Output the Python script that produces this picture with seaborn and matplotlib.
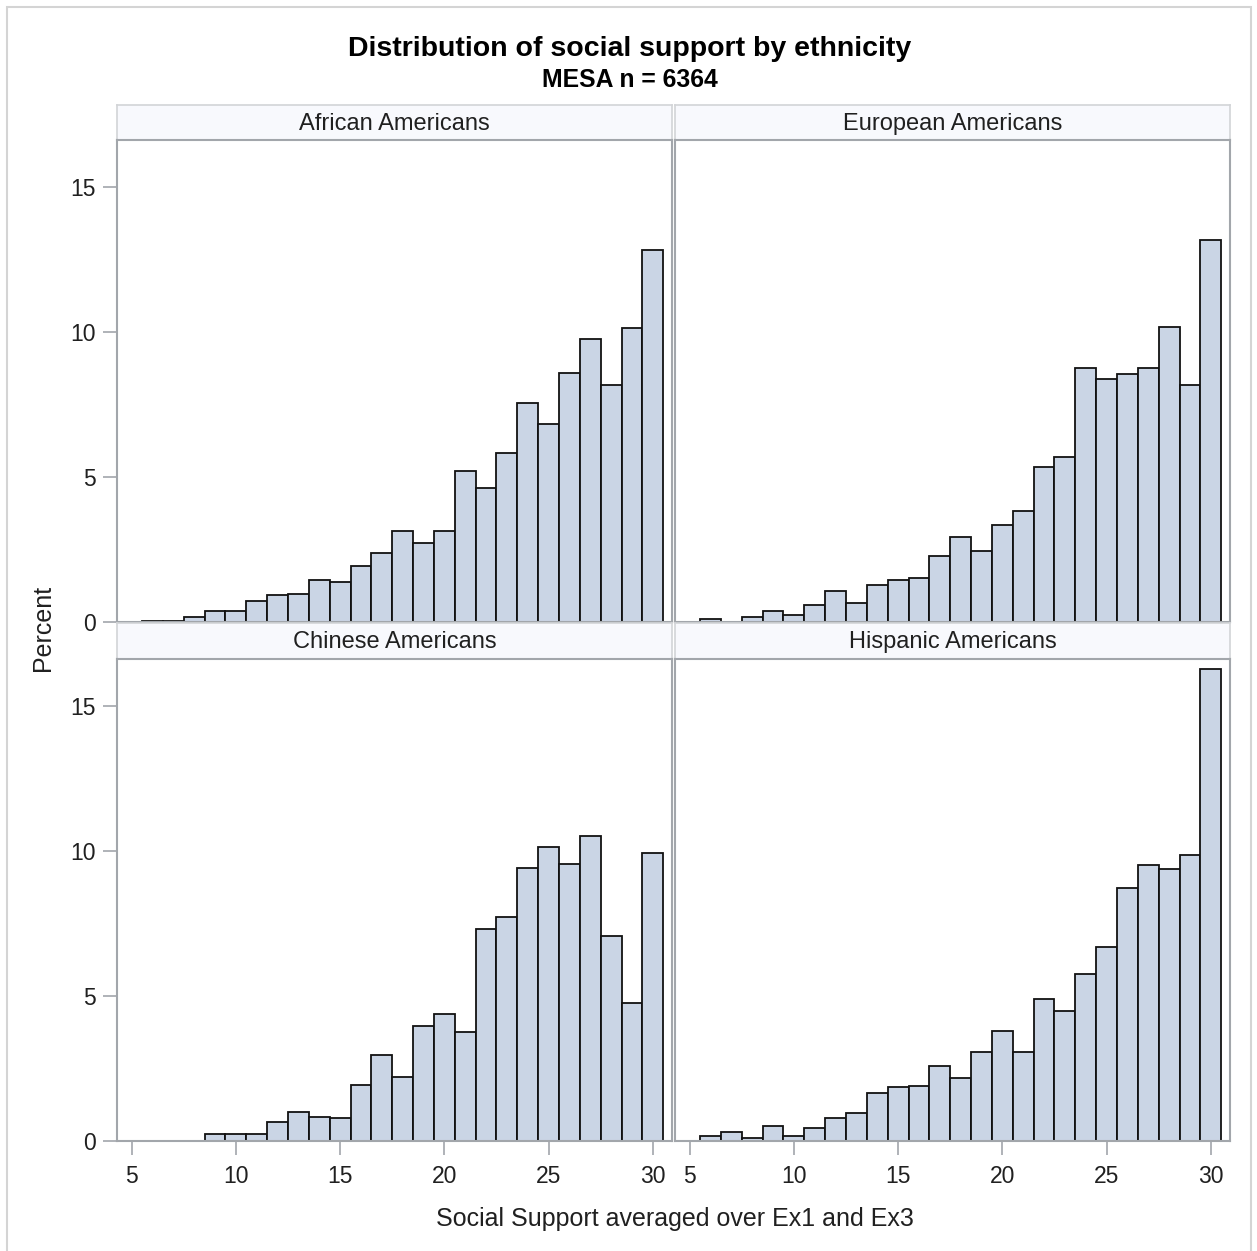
import numpy as np
import pandas as pd
import matplotlib
matplotlib.use("Agg")
import matplotlib.pyplot as plt
from matplotlib.patches import Rectangle
import seaborn as sns

# ---- data: percent of participants per integer score bin ----
bin_centers = list(range(6, 31))
african_americans = [0.05, 0.05, 0.17, 0.37, 0.37, 0.71, 0.92, 0.98, 1.46, 1.38,
                     1.92, 2.38, 3.14, 2.73, 3.14, 5.21, 4.63, 5.83, 7.57, 6.82,
                     8.60, 9.75, 8.19, 10.13, 12.85]
european_americans = [0.12, 0.0, 0.17, 0.38, 0.25, 0.60, 1.06, 0.66, 1.27, 1.46,
                      1.52, 2.27, 2.93, 2.45, 3.34, 3.82, 5.35, 5.70, 8.78, 8.40,
                      8.54, 8.78, 10.18, 8.17, 13.18]
chinese_americans = [0.0, 0.0, 0.0, 0.23, 0.23, 0.23, 0.64, 0.99, 0.84, 0.78,
                     1.93, 2.95, 2.20, 3.97, 4.37, 3.75, 7.32, 7.72, 9.41, 10.14,
                     9.55, 10.54, 7.06, 4.76, 9.94]
hispanic_americans = [0.17, 0.30, 0.12, 0.52, 0.17, 0.46, 0.78, 0.98, 1.67, 1.85,
                      1.91, 2.60, 2.19, 3.08, 3.81, 3.08, 4.90, 4.49, 5.77, 6.71,
                      8.72, 9.53, 9.39, 9.87, 16.28]
panel_titles = ["African Americans", "European Americans",
                "Chinese Americans", "Hispanic Americans"]
x_ticks = [5, 10, 15, 20, 25, 30]
y_ticks = [0, 5, 10, 15]

sns.set_style("white")
plt.rcParams["font.family"] = ["Liberation Sans", "DejaVu Sans"]

W, H = 1257, 1251
fig = plt.figure(figsize=(W / 100, H / 100), dpi=100)


def px_box(x0, y0, x1, y1):
    """Pixel box (top-left origin) -> figure fraction [l, b, w, h]."""
    return [x0 / W, 1 - y1 / H, (x1 - x0) / W, (y1 - y0) / H]


BAR_FILL = "#CAD5E5"
SPINE = "#A2A6AB"
STRIP_FILL = "#F8F9FD"
STRIP_EDGE = "#D2D4D7"
TEXT = "#202020"

long = pd.DataFrame({
    "score": bin_centers * 4,
    "percent": african_americans + european_americans + chinese_americans + hispanic_americans,
    "group": np.repeat(panel_titles, len(bin_centers)),
})

cols = [(117, 672), (675, 1230)]
rows = [((105, 140), (140, 622)), ((623, 659), (659, 1141))]

for i, title in enumerate(panel_titles):
    r, c = divmod(i, 2)
    (sy0, sy1), (ay0, ay1) = rows[r]
    x0, x1 = cols[c]

    # header strip
    sax = fig.add_axes(px_box(x0, sy0, x1, sy1))
    sax.set_facecolor(STRIP_FILL)
    sax.set_xticks([])
    sax.set_yticks([])
    for sp in sax.spines.values():
        sp.set_color(STRIP_EDGE)
        sp.set_linewidth(1.2)
    sax.text(0.5, 0.47, title, ha="center", va="center", fontsize=17, color=TEXT,
             transform=sax.transAxes)

    ax = fig.add_axes(px_box(x0, ay0, x1, ay1))
    sub = long[long["group"] == title].reset_index(drop=True)
    sns.histplot(data=sub, x="score", weights="percent", binwidth=1.0,
                 binrange=(5.5, 30.5), ax=ax, color=BAR_FILL,
                 edgecolor="#111111", linewidth=1.3, alpha=1.0)
    for p in ax.patches:
        if p.get_height() <= 0:
            p.set_visible(False)

    ax.set_xlim(4.3, 30.92)
    ax.set_ylim(0, 16.63)
    ax.set_xlabel("")
    ax.set_ylabel("")
    ax.set_facecolor("white")
    for sp in ax.spines.values():
        sp.set_visible(True)
        sp.set_color(SPINE)
        sp.set_linewidth(1.5)

    ax.set_xticks(x_ticks)
    ax.set_yticks(y_ticks)
    ax.tick_params(axis="both", bottom=True, left=True, colors=SPINE,
                   labelcolor=TEXT, labelsize=16.5, length=10, width=1.2,
                   direction="out")
    ax.tick_params(axis="y", pad=5)
    ax.tick_params(axis="x", pad=7)
    if r == 0:
        ax.tick_params(axis="x", bottom=False, labelbottom=False)
    if c == 1:
        ax.tick_params(axis="y", left=False, labelleft=False)

# titles and axis labels
fig.text(630 / W, 1 - 56 / H, "Distribution of social support by ethnicity",
         ha="center", va="baseline", fontsize=20.5, fontweight="bold", color="black")
fig.text(630 / W, 1 - 87 / H, "MESA n = 6364",
         ha="center", va="baseline", fontsize=17.8, fontweight="bold", color="black")
fig.text(675 / W, 1 - 1226 / H, "Social Support averaged over Ex1 and Ex3",
         ha="center", va="baseline", fontsize=18, color=TEXT)
fig.text(43 / W, 1 - 628 / H, "Percent", ha="center", va="center",
         rotation=90, fontsize=18, color=TEXT)

# outer frame
frame = Rectangle((7 / W, -0.01), (1251 - 7) / W, 1 - 7 / H + 0.01,
                  transform=fig.transFigure, fill=False, edgecolor="#D4D4D4",
                  linewidth=1.5)
fig.add_artist(frame)

fig.savefig("out.png", dpi=100, facecolor="white")
